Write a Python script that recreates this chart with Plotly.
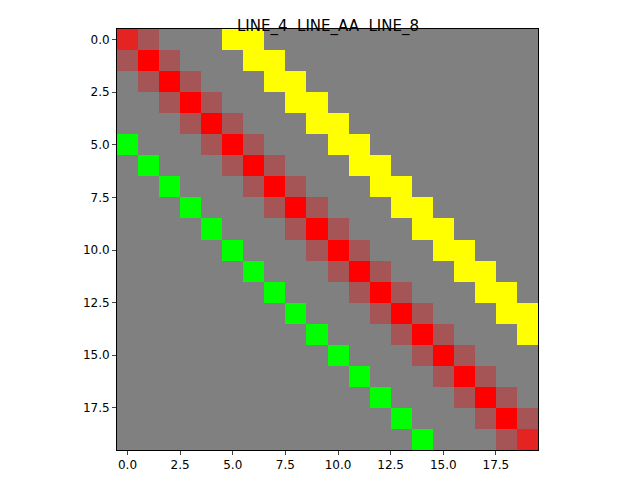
import numpy as np
import plotly.graph_objects as go

size = 20
background = [128, 128, 128]

# LINE_4: (col, row) cells
line4_cols = list(range(0, 15))
line4_rows = list(range(5, 20))
line4_color = [0, 255, 0]

# LINE_AA: diagonal plus half-intensity neighbours
aa_cols = list(range(0, 20))
aa_rows = list(range(0, 20))
aa_color = [255, 0, 0]
aa_corner_color = [230, 35, 35]
aa_edge_color = [165, 85, 85]

# LINE_8 (thickness 2)
line8_rows = list(range(0, 15))
line8_cols_a = [5, 6, 7, 8, 9, 10, 11, 12, 13, 14, 15, 16, 17, 18, 19]
line8_cols_b = [6, 7, 8, 9, 10, 11, 12, 13, 14, 15, 16, 17, 18, 19, None]
line8_color = [255, 255, 0]

img = np.zeros((size, size, 3), dtype=np.uint8)
img[:, :] = background
for c, r in zip(aa_cols, aa_rows):
    for dc in (-1, 1):
        if 0 <= c + dc < size:
            img[r, c + dc] = aa_edge_color
for c, r in zip(aa_cols, aa_rows):
    img[r, c] = aa_color
img[0, 0] = aa_corner_color
img[size - 1, size - 1] = aa_corner_color
for c, r in zip(line4_cols, line4_rows):
    img[r, c] = line4_color
for r, a, b in zip(line8_rows, line8_cols_a, line8_cols_b):
    img[r, a] = line8_color
    if b is not None:
        img[r, b] = line8_color

fig = go.Figure(go.Image(z=img, x0=0, y0=0, dx=1, dy=1))
fig.update_layout(
    width=640, height=480,
    margin=dict(l=109, r=110, t=21, b=38),
    plot_bgcolor="white", paper_bgcolor="white",
    title=dict(text="LINE_4  LINE_AA  LINE_8", x=0.5, y=0.975, xanchor="center",
               font=dict(family="DejaVu Sans", size=15, color="black")),
    font=dict(family="DejaVu Sans", size=12, color="black"),
)
axis = dict(tickvals=[0, 2.5, 5, 7.5, 10, 12.5, 15, 17.5],
            ticktext=["0.0", "2.5", "5.0", "7.5", "10.0", "12.5", "15.0", "17.5"],
            ticks="outside", ticklen=4, showgrid=False, zeroline=False,
            showline=True, linecolor="black", mirror=True)
fig.update_xaxes(range=[-0.5, 19.5], **axis)
fig.update_yaxes(range=[19.5, -0.5], autorange=False, **axis)
fig.write_html("out.html")
